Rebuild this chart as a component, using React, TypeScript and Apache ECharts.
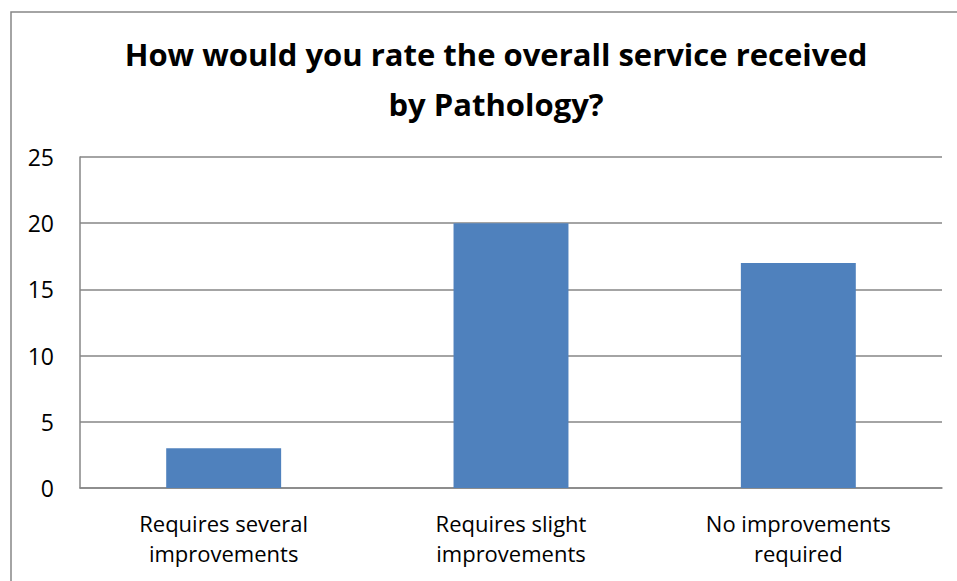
import React, { useEffect, useRef } from "react";
import * as echarts from "echarts";

const categories = ["Requires several\nimprovements", "Requires slight\nimprovements", "No improvements\nrequired"];
const values = [3, 20, 17];
const titleText = "How would you rate the overall service received\nby Pathology?";

export default function App() {
  const ref = useRef<HTMLDivElement>(null);
  useEffect(() => {
    const chart = echarts.init(ref.current!, undefined, { renderer: "svg" });
    chart.setOption({
      animation: false,
      backgroundColor: "#ffffff",
      title: {
        text: titleText,
        left: 491,
        textAlign: "center",
        top: 24,
        textStyle: {
          fontFamily: "Open Sans",
          fontWeight: "bold",
          fontSize: 31,
          lineHeight: 50,
          color: "#000",
        },
      },
      graphic: [
        {
          type: "rect",
          shape: { x: 11, y: 12, width: 1000, height: 700 },
          style: { fill: "none", stroke: "#868686", lineWidth: 1.5 },
          silent: true,
          z: -1,
        },
      ],
      grid: { left: 80, right: 15, top: 157, bottom: 93, containLabel: false },
      xAxis: {
        type: "category",
        data: categories,
        axisTick: { show: false },
        axisLine: { lineStyle: { color: "#868686", width: 1.5 } },
        axisLabel: {
          color: "#000",
          fontFamily: "Open Sans",
          fontSize: 22,
          lineHeight: 30,
          margin: 20,
          interval: 0,
        },
      },
      yAxis: {
        type: "value",
        min: 0,
        max: 25,
        interval: 5,
        axisLine: { show: true, lineStyle: { color: "#868686", width: 1.5 } },
        axisTick: { show: false },
        splitLine: { lineStyle: { color: "#868686", width: 1.5 } },
        axisLabel: { color: "#000", fontFamily: "Open Sans", fontSize: 23, margin: 26 },
      },
      series: [
        {
          type: "bar",
          data: values,
          barCategoryGap: "60%",
          itemStyle: { color: "#4F81BD" },
        },
      ],
    });
    return () => chart.dispose();
  }, []);
  return <div ref={ref} style={{ position: "fixed", left: 0, top: 0, width: 957, height: 581 }} />;
}
